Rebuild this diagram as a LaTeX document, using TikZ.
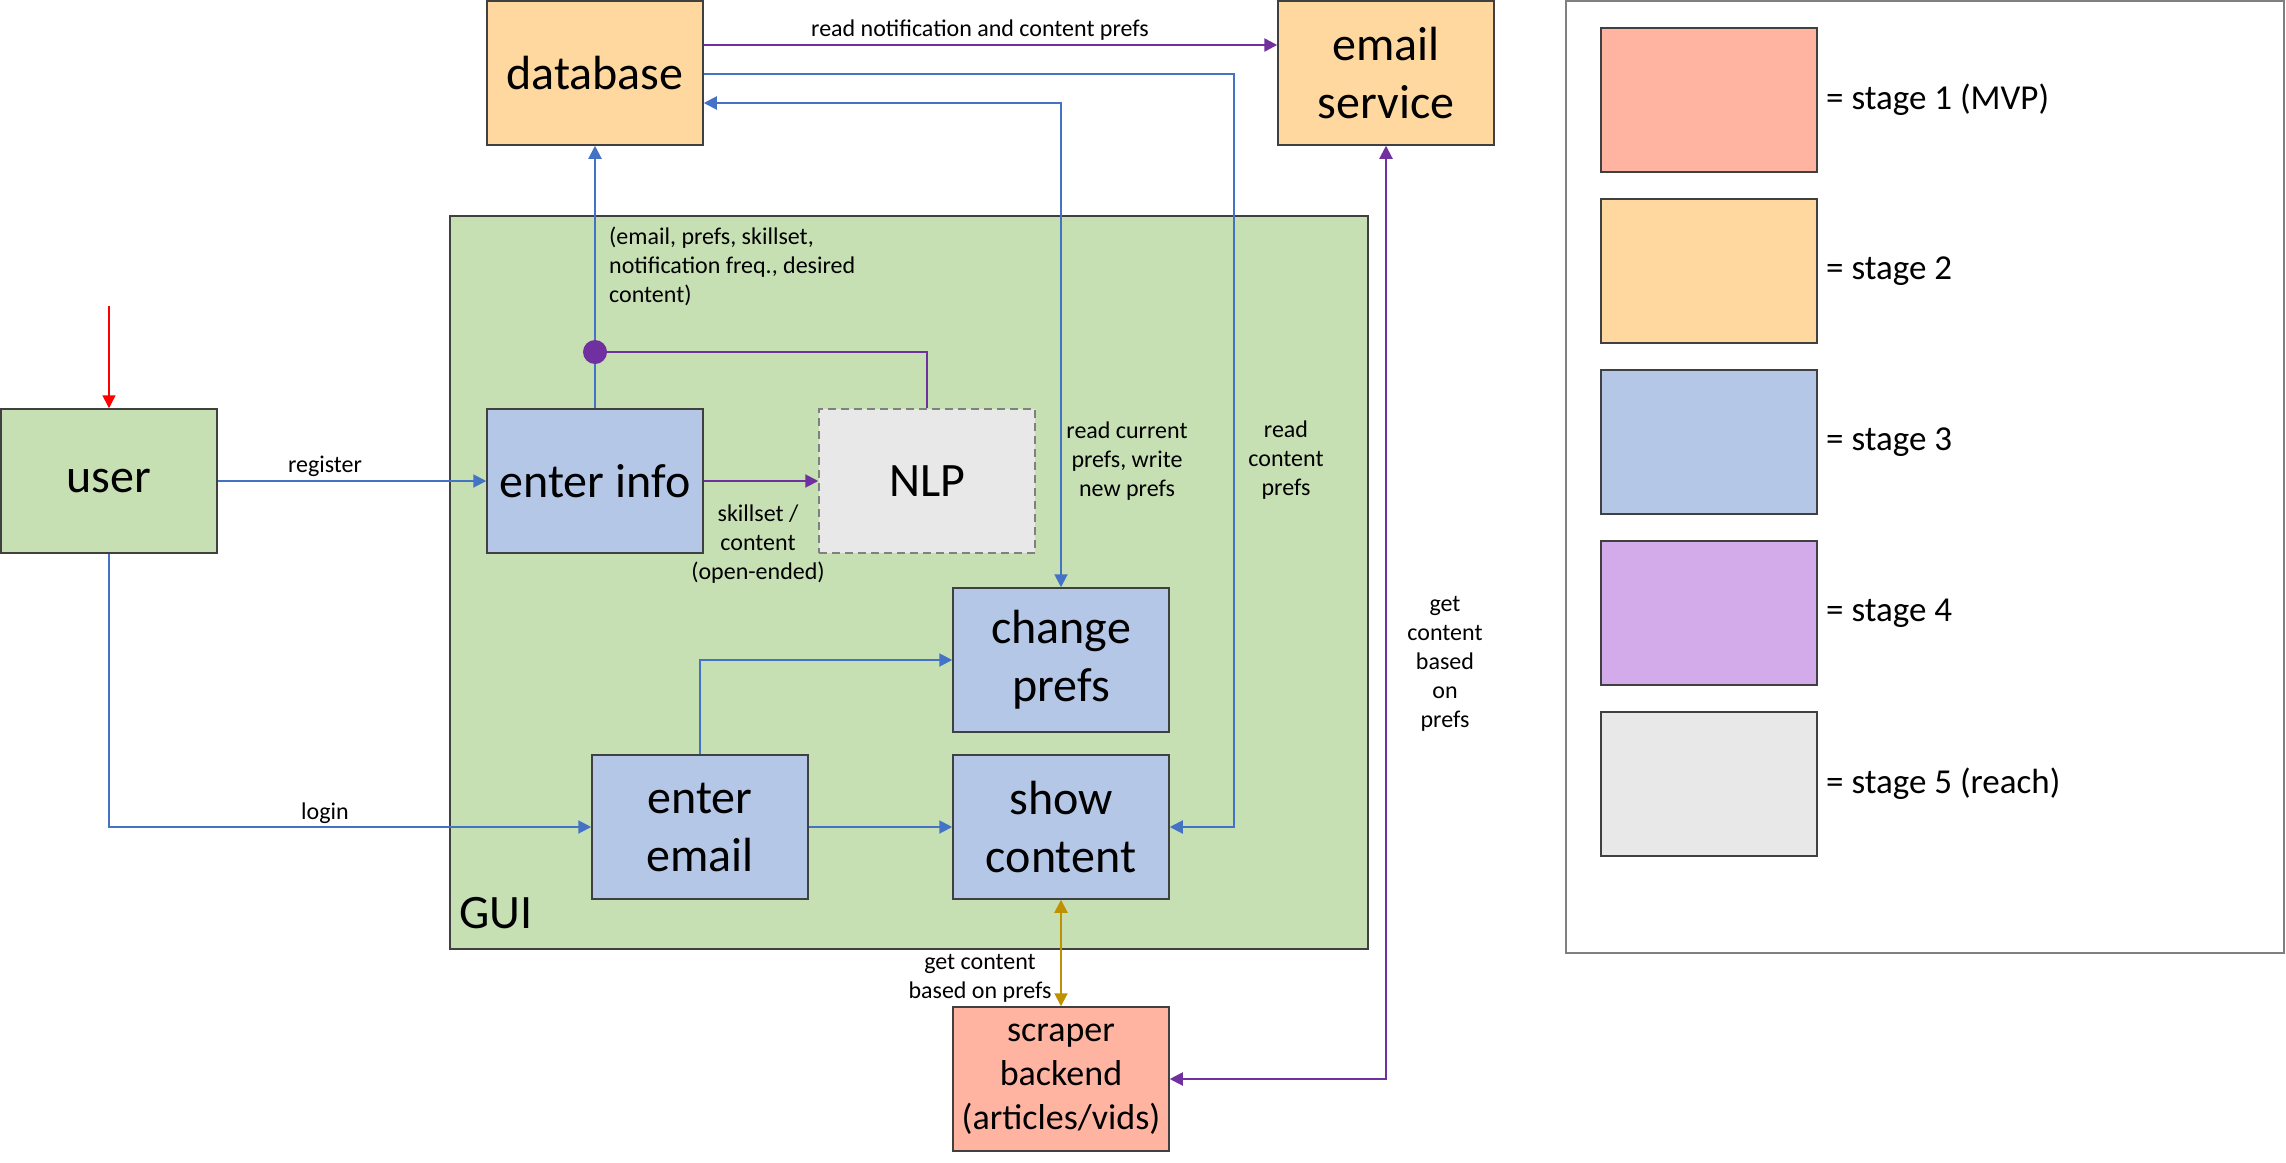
\documentclass[tikz,border=0pt]{standalone}
\usepackage{fontspec}
\setmainfont{Carlito}
\usetikzlibrary{arrows.meta}
\definecolor{gfill}{HTML}{C6E0B4}
\definecolor{bfill}{HTML}{B4C7E7}
\definecolor{ofill}{HTML}{FFD8A0}
\definecolor{sfill}{HTML}{FFB4A2}
\definecolor{pfill}{HTML}{D4ABEA}
\definecolor{grfill}{HTML}{E8E8E8}
\definecolor{bline}{HTML}{4472C4}
\definecolor{pline}{HTML}{7030A0}
\definecolor{gline}{HTML}{BF9000}
\definecolor{bord}{HTML}{404040}
\newcommand\bigf{\fontsize{48}{58}\selectfont}
\newcommand\smf{\fontsize{24}{29}\selectfont}
\newcommand\legf{\fontsize{35}{42}\selectfont}
\newcommand\scrf{\fontsize{36}{44}\selectfont}
\tikzset{
  boxnode/.style={draw=bord, line width=1.5pt, minimum width=216pt, minimum height=144pt,
    align=center, inner sep=0pt, font=\bigf},
  legbox/.style={draw=bord, line width=1.2pt, minimum width=216pt, minimum height=144pt, inner sep=0pt},
  lbl/.style={align=center, font=\smf, inner sep=0pt},
  tip/.style={-{Triangle[length=13pt,width=13pt]}},
  dtip/.style={{Triangle[length=13pt,width=13pt]}-{Triangle[length=13pt,width=13pt]}},
  bl/.style={draw=bline, line width=2pt},
  pu/.style={draw=pline, line width=2pt},
}
\begin{document}
\begin{tikzpicture}[x=1pt,y=-1pt]
\useasboundingbox (0,0) rectangle (2286,1162);
% GUI area
\node[draw=bord, line width=1.5pt, fill=gfill, minimum width=918pt, minimum height=733pt, inner sep=0pt] (gui) at (909,582.5) {};
\node[font=\bigf, anchor=west, inner sep=0pt] (guilbl) at (459,913) {GUI};
% legend frame
\node[draw=gray, line width=1.5pt, minimum width=718pt, minimum height=952pt, inner sep=0pt] (legend) at (1925,477) {};
% nodes
\node[boxnode, fill=ofill] (db) at (595,73) {database};
\node[boxnode, fill=ofill] (es) at (1386,73) {email\\service};
\node[boxnode, fill=gfill] (user) at (109,481) {user};
\node[boxnode, fill=bfill] (info) at (595,481) {enter info};
\node[boxnode, fill=grfill, draw=gray, dash pattern=on 8pt off 5pt] (nlp) at (927,481) {NLP};
\node[boxnode, fill=bfill] (cp) at (1061,660) {change\\prefs};
\node[boxnode, fill=bfill] (em) at (700,827) {enter\\email};
\node[boxnode, fill=bfill] (sc) at (1061,827) {show\\content};
\node[boxnode, fill=sfill, font=\scrf] (scr) at (1061,1079) {scraper\\backend\\(articles/vids)};
% legend
\node[legbox, fill=sfill] (l1) at (1709,100) {};
\node[legbox, fill=ofill] (l2) at (1709,271) {};
\node[legbox, fill=bfill] (l3) at (1709,442) {};
\node[legbox, fill=pfill] (l4) at (1709,613) {};
\node[legbox, fill=grfill] (l5) at (1709,784) {};
\node[font=\legf, anchor=west, inner sep=0pt] (t1) at (1826,100) {= stage 1 (MVP)};
\node[font=\legf, anchor=west, inner sep=0pt] (t2) at (1826,271) {= stage 2};
\node[font=\legf, anchor=west, inner sep=0pt] (t3) at (1826,442) {= stage 3};
\node[font=\legf, anchor=west, inner sep=0pt] (t4) at (1826,613) {= stage 4};
\node[font=\legf, anchor=west, inner sep=0pt] (t5) at (1826,784) {= stage 5 (reach)};
% connectors
\coordinate (redstart) at (109,306);
\draw[draw=red, line width=1.5pt, tip] (redstart) -- (user.north);
\draw[bl, tip] (user.east) -- (info.west);
\node[lbl] (lreg) at (325,466) {register};
\draw[bl, tip] (user.south) |- (em.west);
\node[lbl] (llog) at (325,813) {login};
\draw[bl, tip] (info.north) -- (db.south);
\node[circle, fill=pline, minimum size=24pt, inner sep=0pt] (dot) at (595,352) {};
\draw[pu] (dot.center) -| (nlp.north);
\node[lbl, align=left, anchor=west] (linfo) at (609,266) {(email, prefs, skillset,\\notification freq., desired\\content)};
\draw[pu, tip] (info.east) -- (nlp.west);
\node[lbl] (lnlp) at (758,544) {skillset /\\content\\(open-ended)};
\draw[pline, line width=2.5pt, tip] ([yshift=28pt]db.east) -- ([yshift=28pt]es.west);
\node[lbl] (lnot) at (980,30) {read notification and content prefs};
\coordinate (bendR) at (1234,74);
\draw[bl, tip] ([yshift=-1pt]db.east) -- (bendR) |- (sc.east);
\node[lbl] (lrcp) at (1286,460) {read\\content\\prefs};
\draw[bl, dtip] (cp.north) |- ([yshift=-30pt]db.east);
\node[lbl] (lrcur) at (1127,461) {read current\\prefs, write\\new prefs};
\draw[bl, tip] (em.north) |- (cp.west);
\draw[bl, tip] (em.east) -- (sc.west);
\draw[draw=gline, line width=2pt, dtip] (sc.south) -- (scr.north);
\node[lbl] (lgc1) at (980,978) {get content\\based on prefs};
\draw[pu, dtip] (scr.east) -| (es.south);
\node[lbl] (lgc2) at (1445,664) {get\\content\\based\\on\\prefs};
\end{tikzpicture}
\end{document}
